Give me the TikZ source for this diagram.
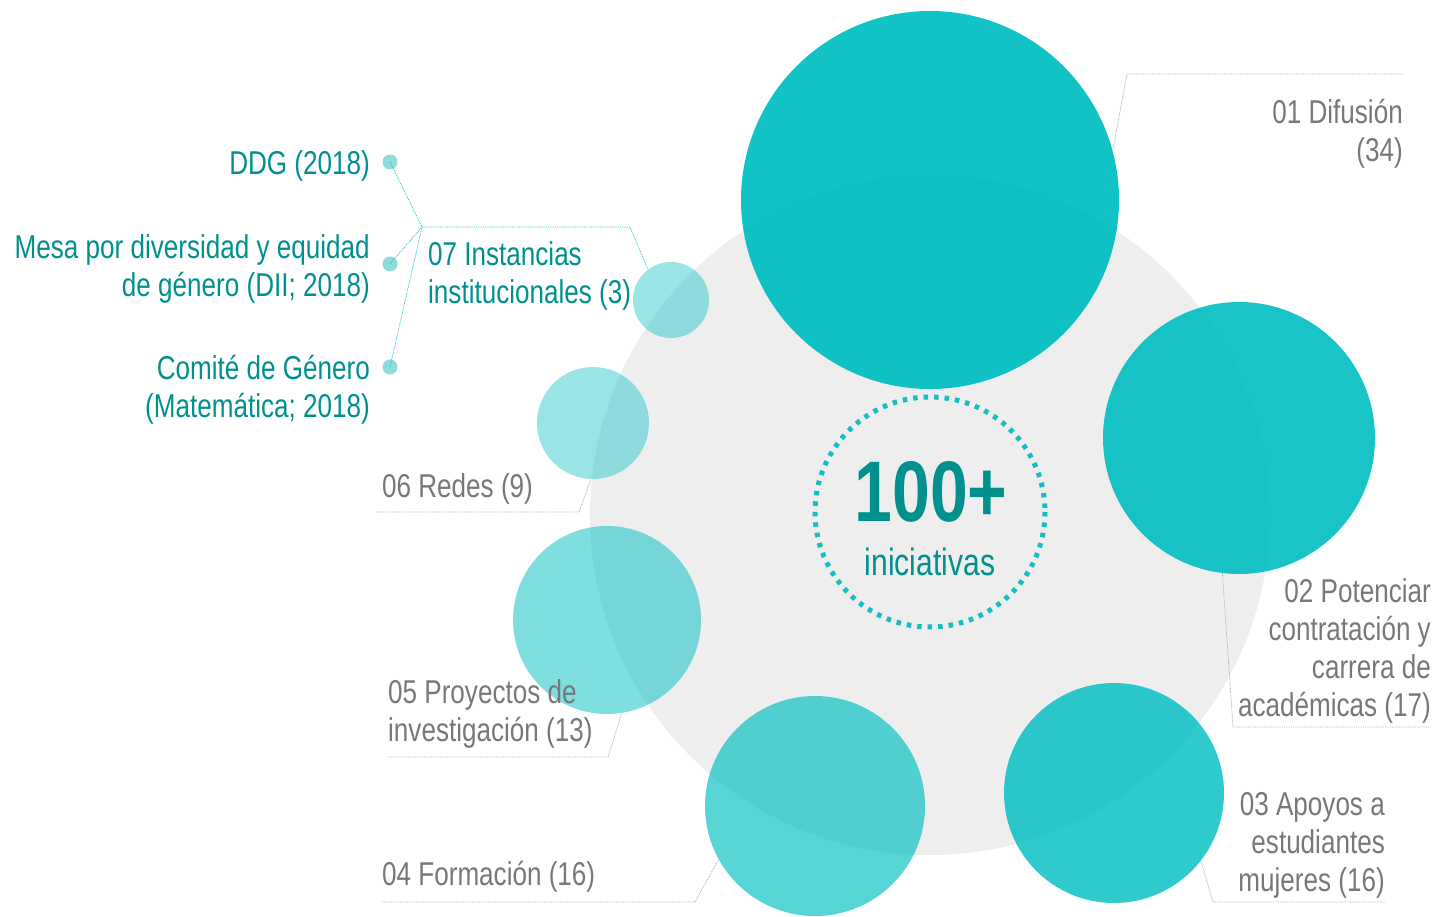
\documentclass[tikz,border=0pt]{standalone}
\usepackage{fontspec}
\setmainfont[FakeStretch=0.79]{Liberation Sans}
\usepackage{xcolor}
\usetikzlibrary{calc}
\definecolor{bubbleteal}{HTML}{00BEC1}
\definecolor{darkteal}{HTML}{00918E}
\definecolor{ringteal}{HTML}{14BEC2}
\definecolor{dotteal}{HTML}{8EDCDC}
\definecolor{backgray}{HTML}{EEEEEE}
\definecolor{labelgray}{HTML}{787878}
\definecolor{leadergray}{HTML}{A8A8A8}
\tikzset{
  bubble/.style={circle, inner sep=0pt, fill=bubbleteal},
  lbl/.style={inner sep=0pt, text=labelgray, font=\fontsize{33}{38}\selectfont},
  tlbl/.style={lbl, text=darkteal},
  leader/.style={densely dotted, line width=0.8pt, draw=leadergray},
  tealleader/.style={densely dotted, line width=0.8pt, draw=ringteal},
  dotnode/.style={circle, inner sep=0pt, minimum size=15pt, fill=dotteal},
}
\begin{document}
\begin{tikzpicture}[x=1pt,y=-1pt]
\useasboundingbox (0,0) rectangle (1432,917);
% fondo
\fill[backgray] (930,515) circle (340);
% burbujas
\node[bubble, minimum size=378pt, fill opacity=0.93] (c01) at (930,200) {};
\node[bubble, minimum size=272pt, fill opacity=0.9] (c02) at (1239,438) {};
\node[bubble, minimum size=220pt, fill opacity=0.82] (c03) at (1114,793) {};
\node[bubble, minimum size=220pt, fill opacity=0.66] (c04) at (815,806) {};
\node[bubble, minimum size=188pt, fill opacity=0.5] (c05) at (607,620) {};
\node[bubble, minimum size=112pt, fill opacity=0.4] (c06) at (593,423) {};
\node[bubble, minimum size=76pt, fill opacity=0.4] (c07) at (671,300) {};
% centro
\draw[ringteal, line width=5pt, dash pattern=on 4.5pt off 6pt] (930,512) circle (115);
\node[inner sep=0pt, text=darkteal, font=\bfseries\fontsize{86}{86}\selectfont] (total) at (931,492) {100+};
\node[inner sep=0pt, anchor=base, text=darkteal, font=\fontsize{38}{38}\selectfont] (inic) at (930,575) {iniciativas};
% etiquetas
\node[lbl, anchor=north east, align=right] (l01) at (1403,99) {01 Difusión\\(34)};
\node[lbl, anchor=north east, align=right] (l02) at (1431,578) {02 Potenciar\\contratación y\\carrera de\\académicas (17)};
\node[lbl, anchor=north east, align=right] (l03) at (1385,792) {03 Apoyos a\\estudiantes\\mujeres (16)};
\node[lbl, anchor=north west, align=left] (l04) at (382,861) {04 Formación (16)};
\node[lbl, anchor=north west, align=left] (l05) at (388,679) {05 Proyectos de\\investigación (13)};
\node[lbl, anchor=north west, align=left] (l06) at (382,473) {06 Redes (9)};
\node[tlbl, anchor=north west, align=left] (l07) at (428,241) {07 Instancias\\institucionales (3)};
\node[tlbl, anchor=north east, align=right] (ddg) at (370,150) {DDG (2018)};
\node[tlbl, anchor=north east, align=right] (mesa) at (370,234) {Mesa por diversidad y equidad\\de género (DII; 2018)};
\node[tlbl, anchor=north east, align=right] (comite) at (370,355) {Comité de Género\\(Matemática; 2018)};
% lineas guia
\coordinate (k01) at (1127,74);
\coordinate (k02) at (1233,727);
\coordinate (k03) at (1213,902);
\coordinate (k04) at (695,902);
\coordinate (k05) at (608,757);
\coordinate (k06) at (579,512);
\coordinate (k07) at (630,227);
\coordinate (hub) at (422,227);
\draw[leader] (l01.north east |- k01) -- (k01) -- (c01.15);
\draw[leader] (c02.-97) -- (k02) -- (k02 -| l02.east);
\draw[leader] (c03.-38) -- (k03) -- (k03 -| l03.east);
\draw[leader] (k04 -| l04.west) -- (k04) -- (c04.-151);
\draw[leader] (k05 -| l05.west) -- (k05) -- (c05.-81);
\draw[leader] ($(k06 -| l06.west)+(-6,0)$) -- (k06) -- (c06.-92);
\draw[tealleader] (hub) -- (k07) -- (c07.127);
% puntos
\node[dotnode] (d1) at (390,162) {};
\node[dotnode] (d2) at (390,264) {};
\node[dotnode] (d3) at (390,367) {};
\draw[tealleader] (d1.center) -- (hub);
\draw[tealleader] (d2.center) -- (hub);
\draw[tealleader] (d3.center) -- (hub);
\end{tikzpicture}
\end{document}
